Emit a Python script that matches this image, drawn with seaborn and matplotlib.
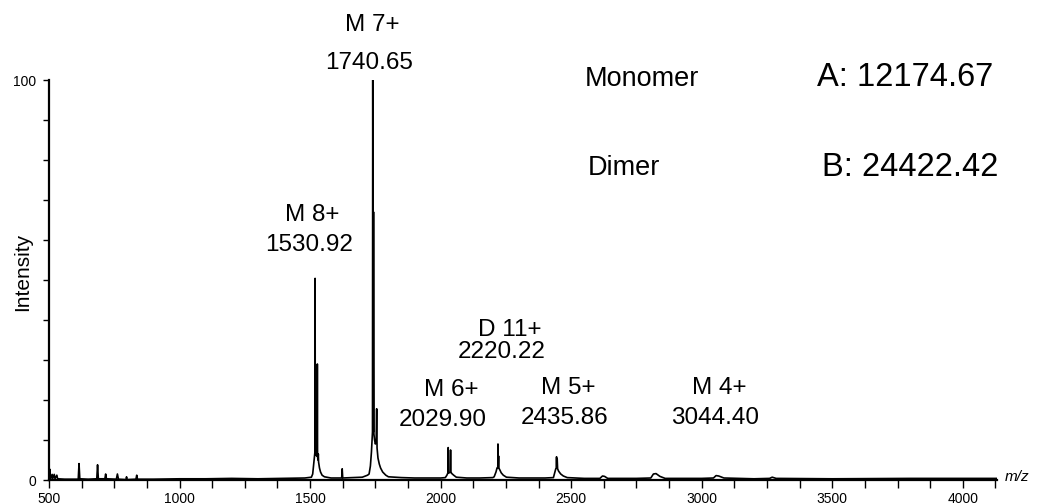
import matplotlib
matplotlib.use("Agg")
import matplotlib.pyplot as plt
import seaborn as sns
import pandas as pd

# ---- data ----
mz = [500, 503, 506, 512, 514, 520, 523, 530, 533, 560, 612, 615, 618, 650,
      683, 686, 689, 714, 717, 720, 758, 762, 766, 795, 797, 799, 833, 836, 839,
      900, 1000, 1100, 1200, 1300, 1400, 1480, 1505,
      1510, 1514, 1517, 1518.5, 1519.2, 1520, 1522, 1525, 1527, 1527.8, 1528.6,
      1530, 1531.5, 1532.5, 1536, 1540, 1546, 1555, 1580, 1600, 1621, 1623, 1625,
      1660, 1700, 1720,
      1726, 1731, 1735, 1738, 1739, 1740, 1742, 1743, 1744.5, 1747, 1750, 1753,
      1755, 1756.5, 1760, 1765, 1770, 1778, 1790, 1800, 1850, 1900, 1950, 2000,
      2018, 2024, 2028, 2029, 2030, 2033, 2037, 2038, 2039, 2043, 2050, 2060,
      2100, 2150, 2200,
      2205, 2212, 2216, 2219, 2219.6, 2220.5, 2222, 2223, 2227, 2232, 2240, 2252,
      2300, 2400,
      2432, 2437, 2441, 2443, 2444, 2445, 2446.5, 2448, 2452, 2460, 2470, 2485,
      2550, 2610, 2620, 2628, 2640, 2750, 2805, 2815, 2825, 2840, 2860, 3000,
      3045, 3055, 3065, 3085, 3200, 3260, 3270, 3285, 3500, 3800, 4000, 4131]
intensity = [0.3, 2.7, 0.3, 1.4, 0.3, 1.4, 0.3, 1.2, 0.3, 0.2, 0.2, 4.1, 0.3, 0.2,
             0.3, 3.8, 0.3, 0.3, 1.5, 0.3, 0.2, 1.5, 0.2, 0.1, 0.8, 0.1, 0.2, 1.2, 0.2,
             0.2, 0.3, 0.3, 0.4, 0.3, 0.4, 0.5, 0.7,
             1.5, 4.0, 6.0, 7.0, 50.4, 8.0, 6.5, 6.0, 7.0, 29.0, 6.0,
             5.0, 6.5, 4.5, 3.0, 2.0, 1.2, 0.8, 0.5, 0.5, 0.5, 2.8, 0.5,
             0.6, 0.7, 1.2,
             1.5, 3.5, 7.0, 10.5, 12.0, 100.0, 12.0, 67.0, 11.5, 10.0, 9.0, 9.5,
             17.8, 8.0, 5.5, 4.0, 3.0, 2.0, 1.2, 0.8, 0.6, 0.5, 0.5, 0.5,
             0.6, 1.2, 1.8, 8.1, 1.8, 1.8, 1.9, 7.5, 2.0, 1.6, 1.2, 0.7,
             0.5, 0.5, 0.6,
             0.8, 2.0, 3.0, 3.2, 9.0, 3.0, 6.0, 3.0, 2.5, 1.8, 1.2, 0.7,
             0.5, 0.5,
             0.6, 1.8, 2.8, 3.0, 5.8, 3.0, 5.2, 2.8, 2.2, 1.5, 1.0, 0.6,
             0.4, 0.4, 1.0, 0.9, 0.4, 0.4, 0.5, 1.5, 1.6, 0.9, 0.4, 0.4,
             0.5, 1.1, 1.0, 0.5, 0.3, 0.4, 0.7, 0.4, 0.3, 0.4, 0.4, 0.4]

peak_names = ["M 7+", "M 8+", "D 11+", "M 6+", "M 5+", "M 4+"]
peak_values = ["1740.65", "1530.92", "2220.22", "2029.90", "2435.86", "3044.40"]
mass_names = ["Monomer", "Dimer"]
mass_values = ["A: 12174.67", "B: 24422.42"]

x_major = [500, 1000, 1500, 2000, 2500, 3000, 3500, 4000]
y_labels = {0: "0", 100: "100"}

# ---- styling ----
sns.set_theme(style="ticks")
plt.rcParams["font.family"] = ["Liberation Sans", "DejaVu Sans"]
plt.rcParams["text.color"] = "black"
plt.rcParams["axes.labelcolor"] = "black"
plt.rcParams["xtick.color"] = "black"
plt.rcParams["ytick.color"] = "black"

W, H = 1045, 504
fig = plt.figure(figsize=(W / 100, H / 100), dpi=100)
fig.patch.set_facecolor("white")
ax = fig.add_axes([49 / W, 1 - 480 / H, 948 / W, 400 / H])
ax.set_facecolor("white")

df = pd.DataFrame({"mz": mz, "intensity": intensity})
sns.lineplot(data=df, x="mz", y="intensity", ax=ax, color="black",
             linewidth=1.2, estimator=None, sort=False)

ax.set_xlim(500, 4131)
ax.set_ylim(0, 100)

sns.despine(ax=ax)
for s in ("left", "bottom"):
    ax.spines[s].set_linewidth(1.6)
    ax.spines[s].set_color("black")

xt = list(range(500, 4131, 125))
ax.set_xticks(xt)
ax.set_xticklabels([str(t) if t in x_major else "" for t in xt], fontsize=10)
yt = list(range(0, 101, 10))
ax.set_yticks(yt)
ax.set_yticklabels([y_labels.get(t, "") for t in yt], fontsize=10)
ax.tick_params(axis="x", direction="out", length=5.8, width=1.0, pad=2.5,
               colors="black")
ax.tick_params(axis="y", direction="out", length=4.3, width=1.0, pad=5,
               colors="black")
ax.set_xlabel("")
ax.set_ylabel("")

# axis titles
fig.text(23 / W, 1 - 272 / H, "Intensity", rotation=90, ha="center",
         va="center", fontsize=15, color="black")
ax.text(1.0085, 0.008, "m/z", transform=ax.transAxes, ha="left", va="center",
        fontsize=11, style="italic", color="black")

# peak annotations (data coordinates)
name_pos = [(1738, 113.8), (1507, 66.3), (2266, 37.5), (2042, 22.5),
            (2490, 23.0), (3066, 23.0)]
value_pos = [(1726, 104.3), (1496, 58.8), (2235, 32.1), (2010, 15.0),
             (2476, 15.5), (3053, 15.5)]
for name, val, (nx, ny), (vx, vy) in zip(peak_names, peak_values,
                                         name_pos, value_pos):
    ax.text(nx, ny, name, ha="center", va="center", fontsize=17.5,
            color="black", clip_on=False)
    ax.text(vx, vy, val, ha="center", va="center", fontsize=17.5,
            color="black", clip_on=False)

ax.text(2770, 100.2, mass_names[0], ha="center", va="center", fontsize=19.5,
        color="black", clip_on=False)
ax.text(3780, 100.5, mass_values[0], ha="center", va="center", fontsize=23.5,
        color="black", clip_on=False)
ax.text(2702, 78.0, mass_names[1], ha="center", va="center", fontsize=19.5,
        color="black")
ax.text(3800, 78.0, mass_values[1], ha="center", va="center", fontsize=23.5,
        color="black")

fig.savefig("out.png", dpi=100)
